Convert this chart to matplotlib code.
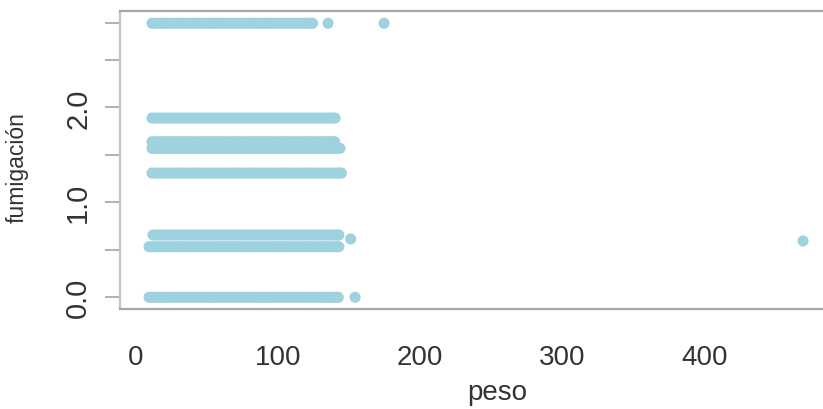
import numpy as np
import matplotlib
matplotlib.use("Agg")
import matplotlib.pyplot as plt

plt.rcParams['font.family'] = ['Liberation Sans', 'DejaVu Sans']

# fumigation level of each horizontal group of observations
fumigacion_niveles = [0.0, 0.533, 0.656, 1.308, 1.568, 1.638, 1.887, 2.885]

# weights observed at each fumigation level
peso_0000 = [9.5, 11.8, 13.9, 16.2, 18.4, 20.5, 22.8, 25.1, 27.2, 29.4, 31.7, 33.8, 36.0,
             38.3, 40.5, 42.6, 44.9, 47.1, 49.2, 51.5, 53.7, 55.8, 58.1, 60.3, 62.4, 64.7,
             66.9, 69.0, 71.3, 73.5, 75.6, 77.9, 80.1, 82.2, 84.5, 86.7, 88.8, 91.1, 93.3,
             95.4, 97.7, 99.9, 102.0, 104.3, 106.5, 108.6, 110.9, 113.1, 115.2, 117.5,
             119.7, 121.8, 124.1, 126.3, 128.4, 130.7, 132.9, 135.0, 137.3, 139.5, 141.2,
             142.6, 154.4]
peso_0533 = [9.5, 11.6, 13.8, 16.1, 18.3, 20.4, 22.7, 24.9, 27.0, 29.3, 31.5, 33.6, 35.9,
             38.1, 40.2, 42.5, 44.7, 46.8, 49.1, 51.3, 53.4, 55.7, 57.9, 60.0, 62.3, 64.5,
             66.6, 68.9, 71.1, 73.2, 75.5, 77.7, 79.8, 82.1, 84.3, 86.4, 88.7, 90.9, 93.0,
             95.3, 97.5, 99.6, 101.9, 104.1, 106.2, 108.5, 110.7, 112.8, 115.1, 117.3,
             119.4, 121.7, 123.9, 126.0, 128.3, 130.5, 132.6, 134.9, 137.1, 139.2, 141.4,
             143.0]
peso_0656 = [12.3, 14.5, 16.6, 18.9, 21.1, 23.2, 25.5, 27.7, 29.8, 32.1, 34.3, 36.4, 38.7,
             40.9, 43.0, 45.3, 47.5, 49.6, 51.9, 54.1, 56.2, 58.5, 60.7, 62.8, 65.1, 67.3,
             69.4, 71.7, 73.9, 76.0, 78.3, 80.5, 82.6, 84.9, 87.1, 89.2, 91.5, 93.7, 95.8,
             98.1, 100.3, 102.4, 104.7, 106.9, 109.0, 111.3, 113.5, 115.6, 117.9, 120.1,
             122.2, 124.5, 126.7, 128.8, 131.1, 133.3, 135.4, 137.7, 139.9, 141.6, 143.0]
peso_1308 = [11.6, 13.9, 16.0, 18.2, 20.5, 22.7, 24.8, 27.1, 29.3, 31.4, 33.7, 35.9, 38.0,
             40.3, 42.5, 44.6, 46.9, 49.1, 51.2, 53.5, 55.7, 57.8, 60.1, 62.3, 64.4, 66.7,
             68.9, 71.0, 73.3, 75.5, 77.6, 79.9, 82.1, 84.2, 86.5, 88.7, 90.8, 93.1, 95.3,
             97.4, 99.7, 101.9, 104.0, 106.3, 108.5, 110.6, 112.9, 115.1, 117.2, 119.5,
             121.7, 123.8, 126.1, 128.3, 130.4, 132.7, 134.9, 137.0, 139.3, 141.5, 143.2,
             144.8]
peso_1568 = [11.6, 13.7, 15.9, 18.2, 20.4, 22.5, 24.8, 27.0, 29.1, 31.4, 33.6, 35.7, 38.0,
             40.2, 42.3, 44.6, 46.8, 48.9, 51.2, 53.4, 55.5, 57.8, 60.0, 62.1, 64.4, 66.6,
             68.7, 71.0, 73.2, 75.3, 77.6, 79.8, 81.9, 84.2, 86.4, 88.5, 90.8, 93.0, 95.1,
             97.4, 99.6, 101.7, 104.0, 106.2, 108.3, 110.6, 112.8, 114.9, 117.2, 119.4,
             121.5, 123.8, 126.0, 128.1, 130.4, 132.6, 134.7, 137.0, 139.2, 141.3, 143.8]
peso_1638 = [11.6, 13.8, 16.1, 18.3, 20.4, 22.7, 24.9, 27.0, 29.3, 31.5, 33.6, 35.9, 38.1,
             40.2, 42.5, 44.7, 46.8, 49.1, 51.3, 53.4, 55.7, 57.9, 60.0, 62.3, 64.5, 66.6,
             68.9, 71.1, 73.2, 75.5, 77.7, 79.8, 82.1, 84.3, 86.4, 88.7, 90.9, 93.0, 95.3,
             97.5, 99.6, 101.9, 104.1, 106.2, 108.5, 110.7, 112.8, 115.1, 117.3, 119.4,
             121.7, 123.9, 126.0, 128.3, 130.5, 132.6, 134.9, 137.1, 138.8, 140.0]
peso_1887 = [11.6, 13.9, 16.1, 18.2, 20.5, 22.7, 24.8, 27.1, 29.3, 31.4, 33.7, 35.9, 38.0,
             40.3, 42.5, 44.6, 46.9, 49.1, 51.2, 53.5, 55.7, 57.8, 60.1, 62.3, 64.4, 66.7,
             68.9, 71.0, 73.3, 75.5, 77.6, 79.9, 82.1, 84.2, 86.5, 88.7, 90.8, 93.1, 95.3,
             97.4, 99.7, 101.9, 104.0, 106.3, 108.5, 110.6, 112.9, 115.1, 117.2, 119.5,
             121.7, 123.8, 126.1, 128.3, 130.4, 132.7, 134.9, 137.0, 138.9, 140.3]
peso_2885 = [11.6, 13.8, 15.9, 18.2, 20.4, 22.5, 24.8, 27.0, 29.1, 31.4, 33.6, 35.7, 38.0,
             40.2, 42.3, 44.6, 46.8, 48.9, 51.2, 53.4, 55.5, 57.8, 60.0, 62.1, 64.4, 66.6,
             68.7, 71.0, 73.2, 75.3, 77.6, 79.8, 81.9, 84.2, 86.4, 88.5, 90.8, 93.0, 95.1,
             97.4, 99.6, 101.7, 104.0, 106.2, 108.3, 110.6, 112.8, 114.9, 117.2, 119.4,
             121.5, 123.2, 124.5, 135.4, 174.8]

# isolated observations
peso_extra = [151.3, 469.4]
fumigacion_extra = [0.614, 0.593]

x_ticks = [0, 100, 200, 300, 400]
x_tick_labels = ["0", "100", "200", "300", "400"]
y_ticks = [0.0, 0.5, 1.0, 1.5, 2.0, 2.5, 2.885]
y_tick_labels = ["0.0", "", "1.0", "", "2.0", "", ""]

grupos = [peso_0000, peso_0533, peso_0656, peso_1308,
          peso_1568, peso_1638, peso_1887, peso_2885]

peso = np.concatenate([np.asarray(g) for g in grupos] + [np.asarray(peso_extra)])
fumigacion = np.concatenate([np.full(len(g), f) for g, f in zip(grupos, fumigacion_niveles)]
                            + [np.asarray(fumigacion_extra)])

W, H = 823, 410
fig = plt.figure(figsize=(W / 100, H / 100), dpi=100)
# plotting region (pixels): left 120, right 845, top 12, bottom 310
ax = fig.add_axes([120 / W, (H - 310) / H, (845 - 120) / W, (310 - 12) / H])

punto = '#9ed2de'
ax.scatter(peso, fumigacion, s=64, c=punto, edgecolors='none', zorder=3, clip_on=False)

ax.set_xlim(-10.9, 498.9)
ax.set_ylim(-0.123, 3.014)

frame = '#a6a6a6'
for side, sp in ax.spines.items():
    sp.set_color(frame)
    sp.set_linewidth(1.6)
ax.spines['left'].set_color('#c4c4c4')

ax.set_xticks(x_ticks)
ax.set_xticklabels(x_tick_labels)
ax.tick_params(axis='x', length=0, pad=25, labelsize=20, labelcolor='#333333')

ax.set_yticks(y_ticks)
ax.set_yticklabels(y_tick_labels, rotation=90, va='center')
ax.tick_params(axis='y', length=11, width=1.4, color='#b0b0b0', pad=9,
               labelsize=21, labelcolor='#333333')

ax.set_xlabel("peso", fontsize=20, color='#333333')
ax.xaxis.set_label_coords((497 - 120) / (845 - 120), -(393 - 310) / 298, transform=ax.transAxes)
ax.xaxis.label.set_va('center')

fig.text(17 / W, 1 - 168 / H, "fumigación", rotation=90, fontsize=16.5,
         color='#333333', ha='center', va='center')

fig.savefig("out.png", dpi=100)
